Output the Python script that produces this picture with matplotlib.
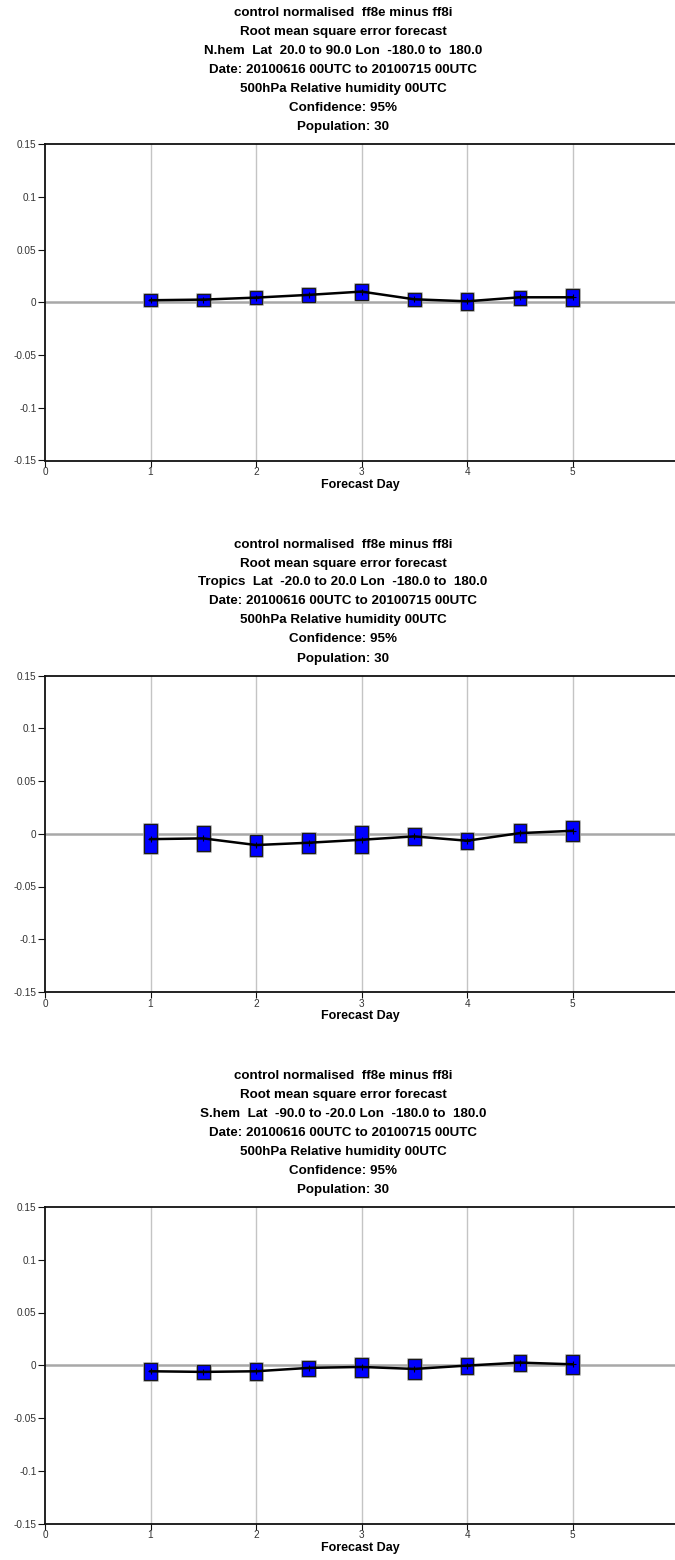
import matplotlib
matplotlib.use("Agg")
import matplotlib.pyplot as plt
import matplotlib.patheffects as pe
import numpy as np

plt.rcParams['font.family'] = ['Liberation Sans', 'DejaVu Sans']

# ---- data ----
days = [1, 1.5, 2, 2.5, 3, 3.5, 4, 4.5, 5]

regions = [
    "N.hem  Lat  20.0 to 90.0 Lon  -180.0 to  180.0",
    "Tropics  Lat  -20.0 to 20.0 Lon  -180.0 to  180.0",
    "S.hem  Lat  -90.0 to -20.0 Lon  -180.0 to  180.0",
]

nhem_mean  = [0.0019, 0.0025, 0.0044, 0.0070, 0.0101, 0.0028, 0.0009, 0.0047, 0.0047]
nhem_upper = [0.0076, 0.0082, 0.0104, 0.0133, 0.0177, 0.0092, 0.0089, 0.0110, 0.0126]
nhem_lower = [-0.0038, -0.0032, -0.0013, 0.0003, 0.0025, -0.0038, -0.0076, -0.0025, -0.0038]

trop_mean  = [-0.0051, -0.0044, -0.0107, -0.0085, -0.0057, -0.0025, -0.0066, 0.0006, 0.0028]
trop_upper = [0.0088, 0.0070, -0.0009, 0.0003, 0.0076, 0.0051, 0.0006, 0.0088, 0.0120]
trop_lower = [-0.0186, -0.0161, -0.0209, -0.0180, -0.0186, -0.0104, -0.0149, -0.0076, -0.0066]

shem_mean  = [-0.0057, -0.0063, -0.0057, -0.0025, -0.0016, -0.0035, -0.0003, 0.0025, 0.0009]
shem_upper = [0.0022, 0.0006, 0.0022, 0.0044, 0.0070, 0.0057, 0.0070, 0.0098, 0.0098]
shem_lower = [-0.0136, -0.0133, -0.0139, -0.0104, -0.0114, -0.0130, -0.0085, -0.0051, -0.0085]

means = [nhem_mean, trop_mean, shem_mean]
uppers = [nhem_upper, trop_upper, shem_upper]
lowers = [nhem_lower, trop_lower, shem_lower]

yticks = [-0.15, -0.1, -0.05, 0, 0.05, 0.1, 0.15]
ytick_labels = ["-0.15", "-0.1", "-0.05", "0", "0.05", "0.1", "0.15"]
xticks = [0, 1, 2, 3, 4, 5]

title_common = [
    "control normalised  ff8e minus ff8i",
    "Root mean square error forecast",
    None,
    "Date: 20100616 00UTC to 20100715 00UTC",
    "500hPa Relative humidity 00UTC",
    "Confidence: 95%",
    "Population: 30",
]

# ---- layout ----
W, H = 675, 1560
fig = plt.figure(figsize=(W / 100, H / 100), dpi=100)

left_px = 45
panel_tops = [144, 675.5, 1207]
panel_h = 316.5
title_first = 13
title_step = 19
title_x = 343

for k in range(3):
    top = panel_tops[k]
    ax = fig.add_axes([left_px / W, 1 - (top + panel_h) / H, (W - left_px) / W, panel_h / H])
    ax.set_xlim(0, 5.97)
    ax.set_ylim(-0.15, 0.15)
    # grid
    for d in [1, 2, 3, 4, 5]:
        ax.axvline(d, color='#c4c4c4', lw=1.0, zorder=0)
    ax.axhline(0, color='#a8a8a8', lw=1.8, zorder=1)
    # boxes for confidence intervals
    lo = np.array(lowers[k]); up = np.array(uppers[k])
    bars = ax.bar(days, up - lo, bottom=lo, width=0.12, color='#0000ff',
                  edgecolor='#1a1a1a', linewidth=0.9, zorder=3)
    for b in bars:
        b.set_path_effects([pe.Stroke(linewidth=1.8, foreground='#b0b0b0'), pe.Normal()])
    ax.plot(days, means[k], color='black', lw=1.8, zorder=4)
    ax.plot(days, means[k], linestyle='none', marker='+', color='black',
            markersize=5, mew=0.8, zorder=5)
    for s in ['left', 'bottom', 'top']:
        ax.spines[s].set_color('#111111')
        ax.spines[s].set_linewidth(1.3)
    ax.spines['right'].set_visible(False)
    ax.set_yticks(yticks)
    ax.set_yticklabels(ytick_labels)
    ax.set_xticks(xticks)
    ax.set_xticklabels([str(x) for x in xticks])
    ax.tick_params(axis='y', labelsize=7.2, colors='#111111', labelcolor='#333333',
                   length=5, width=0.8, pad=1)
    ax.tick_params(axis='x', labelsize=7.2, colors='#111111', labelcolor='#333333',
                   length=4, width=0.8, pad=1)
    ax.set_xlabel("Forecast Day", fontsize=9, fontweight='bold', labelpad=1)
    # titles
    lines = list(title_common)
    lines[2] = regions[k]
    base = top - panel_tops[0] + title_first
    for i, ln in enumerate(lines):
        y = base + i * title_step
        fig.text(title_x / W, 1 - y / H, ln, ha='center', va='center',
                 fontsize=9.6, fontweight='bold', color='black')

fig.savefig("out.png", dpi=100)
